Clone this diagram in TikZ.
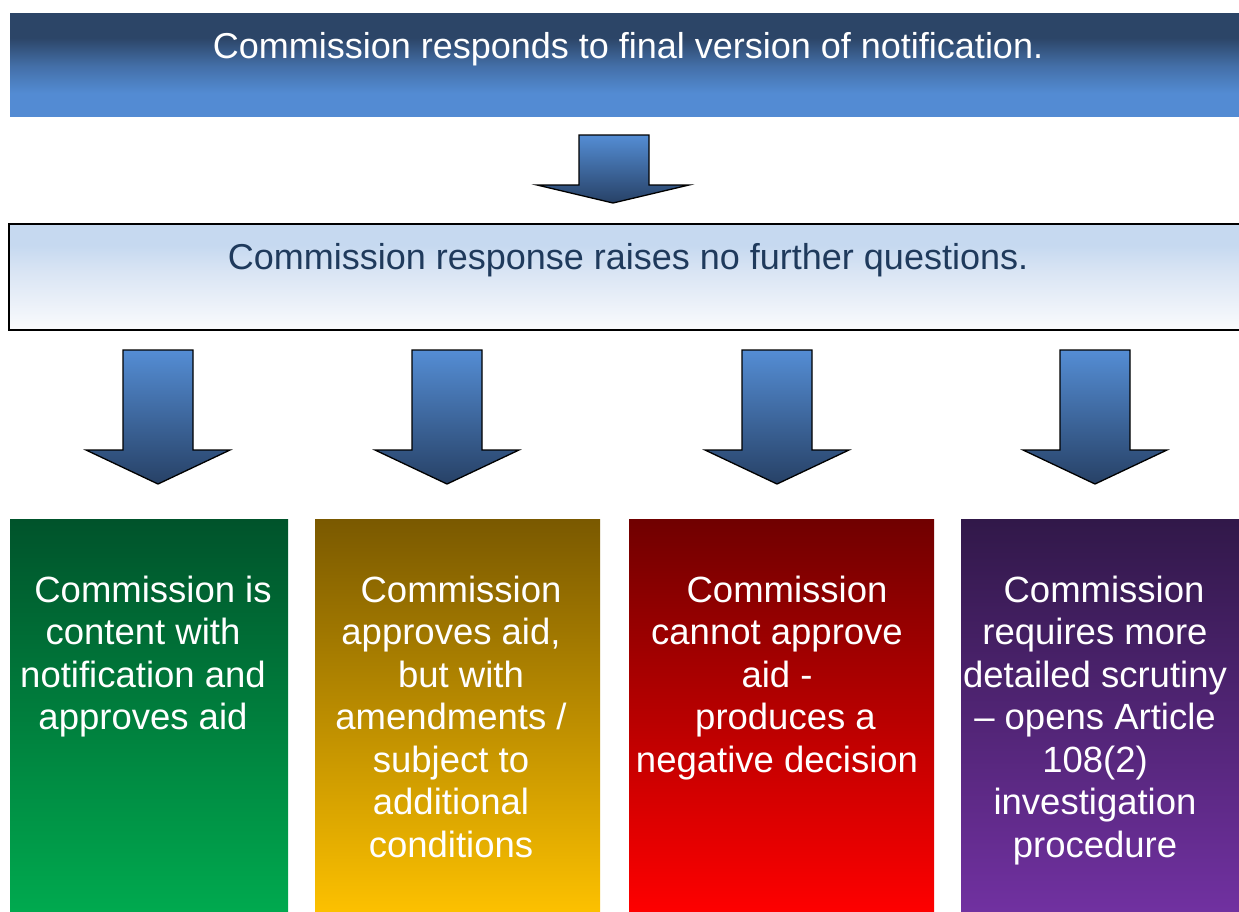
\documentclass[tikz,border=0pt]{standalone}
\usepackage{fontspec}
\setmainfont{Liberation Sans}
\definecolor{topdark}{HTML}{2C4567}
\definecolor{topmid}{HTML}{4470A9}
\definecolor{toplight}{HTML}{538BD3}
\definecolor{resptop}{HTML}{C6D9F0}
\definecolor{respmid}{HTML}{DAE5F4}
\definecolor{respbot}{HTML}{FAFBFD}
\definecolor{resptext}{HTML}{1F3A5C}
\definecolor{arrtop}{HTML}{548DD4}
\definecolor{arrbot}{HTML}{274166}
\definecolor{gtop}{HTML}{00532B}
\definecolor{gbot}{HTML}{00AA4F}
\definecolor{ytop}{HTML}{7A5900}
\definecolor{ybot}{HTML}{FDC100}
\definecolor{rtop}{HTML}{700000}
\definecolor{rbot}{HTML}{FF0000}
\definecolor{ptop}{HTML}{311849}
\definecolor{pbot}{HTML}{7131A1}
\pgfdeclareverticalshading{topshade}{100bp}{color(0bp)=(toplight); color(36bp)=(toplight); color(49bp)=(topmid); color(63bp)=(topdark); color(100bp)=(topdark)}
\pgfdeclareverticalshading{respshade}{100bp}{color(0bp)=(respbot); color(25bp)=(respbot); color(52bp)=(respmid); color(65bp)=(resptop); color(100bp)=(resptop)}
\newcommand\headfont{\fontsize{36}{43}\selectfont}
\newcommand\boxfont{\fontsize{36.5}{42.5}\selectfont}
\begin{document}
\begin{tikzpicture}[x=1pt,y=1pt,
  every node/.style={inner sep=0pt, outer sep=0pt},
  headbox/.style={anchor=north west, shading=topshade, minimum width=1229pt, minimum height=103pt},
  respbox/.style={anchor=north west, shading=respshade, draw=black, line width=2pt, minimum width=1240pt, minimum height=106pt},
  resbox/.style={anchor=north west, minimum height=395pt},
  boxtext/.style={anchor=north, align=center, text=white, font=\boxfont},
  blockarrow/.style={top color=arrtop, bottom color=arrbot, draw=black, line width=1.3pt, line join=miter}
]
\useasboundingbox[fill=white] (0,0) rectangle (1239,-911);

% top box
\node[headbox] (top) at (10,-13) {};
\node[anchor=base, text=white, font=\headfont] (toptext) at (628,-58) {Commission responds to final version of notification.};

% response box
\node[respbox] (resp) at (9,-224) {};
\node[anchor=base, text=resptext, font=\headfont] (resptext) at (628,-269) {Commission response raises no further questions.};

% small arrow
\shadedraw[blockarrow] (579,-135) -- (649,-135) -- (649,-185) -- (689,-185) -- (613,-203) -- (537,-185) -- (579,-185) -- cycle;

% result boxes
\node[resbox, top color=gtop, bottom color=gbot, minimum width=278pt] (b1) at (10,-519) {};
\node[resbox, top color=ytop, bottom color=ybot, minimum width=285pt] (b2) at (315,-519) {};
\node[resbox, top color=rtop, bottom color=rbot, minimum width=305pt] (b3) at (629,-519) {};
\node[resbox, top color=ptop, bottom color=pbot, minimum width=280pt] (b4) at (961,-519) {};

% four arrows
\foreach \cx in {158,447,777,1095}{
  \shadedraw[blockarrow] (\cx-35,-350) -- (\cx+35,-350) -- (\cx+35,-450) -- (\cx+72,-450) -- (\cx,-484) -- (\cx-72,-450) -- (\cx-35,-450) -- cycle;
}

% texts
\node[boxtext] (t1) at (143,-576) {\hspace*{20pt}Commission is\\content with\\notification and\\approves aid};
\node[boxtext] (t2) at (451,-576) {\hspace*{20pt}Commission\\approves aid,\\\hspace*{20pt}but with\\amendments /\\subject to\\additional\\conditions};
\node[boxtext] (t3) at (777,-576) {\hspace*{20pt}Commission\\cannot approve\\aid -\\\hspace*{17pt}produces a\\negative decision};
\node[boxtext] (t4) at (1095,-576) {\hspace*{18pt}Commission\\requires more\\detailed scrutiny\\– opens Article\\108(2)\\investigation\\procedure};
\end{tikzpicture}
\end{document}
